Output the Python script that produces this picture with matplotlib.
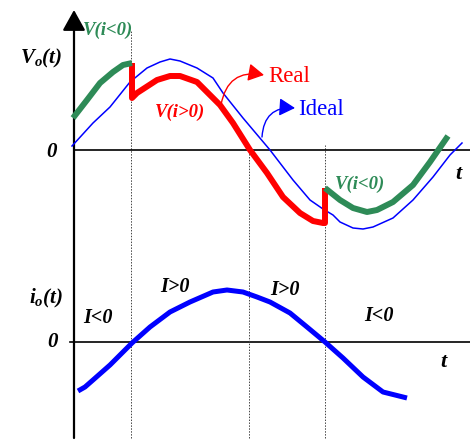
import matplotlib
matplotlib.use("Agg")
import matplotlib.pyplot as plt

plt.rcParams['mathtext.fontset'] = 'custom'
plt.rcParams['mathtext.rm'] = 'Liberation Serif'
plt.rcParams['mathtext.it'] = 'Liberation Serif:italic'
plt.rcParams['mathtext.bf'] = 'Liberation Serif:bold'
plt.rcParams['mathtext.bfit'] = 'Liberation Serif:bold:italic'

# --- output voltage (upper trace) ---
t_ideal = [72, 93, 110, 130, 147, 160, 170, 180, 197, 213, 223, 243, 270, 293, 310,
           323, 333, 340, 353, 363, 373, 393, 413, 433, 450, 462]
v_ideal = [4, 27, 43, 68, 82, 88, 91, 89, 82, 72, 57, 32, 0, -30, -50,
           -59, -65, -72, -78, -79, -77, -68, -50, -27, -5, 7]

t_real = [132, 132, 137, 157, 170, 180, 197, 213, 220, 233, 250, 267, 283, 300,
          313, 323, 325, 325]
v_real = [87, 52, 57, 70, 74, 74, 68, 52, 45, 27, 0, -23, -47, -63,
          -71, -73, -73, -38]

t_neg1 = [73, 87, 100, 113, 123, 132]
v_neg1 = [32, 50, 67, 78, 85, 87]

t_neg2 = [325, 340, 353, 367, 377, 393, 413, 430, 448]
v_neg2 = [-38, -50, -58, -62, -60, -52, -35, -12, 14]

# --- output current (lower trace) ---
t_cur = [78, 85, 93, 110, 132, 150, 170, 190, 213, 227, 243, 257, 270, 290, 307,
         325, 343, 363, 383, 407]
i_cur = [-49, -45, -38, -23, -1, 15, 30, 40, 50, 52, 50, 45, 40, 29, 15,
         0, -16, -35, -50, -56]

# current sign changes / markers (time, top of dotted line in current units)
t_marks = [131, 249, 325]
i_mark_top = [312, 194, 197]
i_mark_bottom = -96

GREEN = '#2E8B57'
RED = '#FF0000'
BLUE = '#0000FF'
bi = dict(family='Liberation Serif', weight='bold', style='italic')

fig = plt.figure(figsize=(4.70, 4.41), dpi=100)
ax_i = fig.add_axes([0, 0, 1, 1])
ax_v = fig.add_axes([0, 0, 1, 1])
for ax in (ax_i, ax_v):
    ax.set_xlim(0, 470)
    ax.axis('off')
    ax.patch.set_alpha(0)
ax_v.set_ylim(150 - 441, 150)
ax_i.set_ylim(342 - 441, 342)

# vertical axis with arrow
ax_i.annotate('', xy=(74, 332), xytext=(74, -96),
              arrowprops=dict(arrowstyle='-|>,head_length=0.9,head_width=0.5',
                              color='black', lw=1.6, mutation_scale=14,
                              shrinkA=0, shrinkB=0))

# zero lines
ax_v.plot([74, 470], [0, 0], color='black', lw=1.2)
ax_i.plot([70, 470], [0, 0], color='black', lw=1.2)

# dotted time markers
for t, top in zip(t_marks, i_mark_top):
    ax_i.plot([t, t], [i_mark_bottom, top], color='#444444', lw=0.7, ls=(0, (1.5, 1.5)))

# voltage traces
ax_v.plot(t_ideal, v_ideal, color=BLUE, lw=1.1, solid_joinstyle='round')
ax_v.plot(t_real, v_real, color=RED, lw=4.3, solid_joinstyle='round', solid_capstyle='butt')
ax_v.plot(t_neg1, v_neg1, color=GREEN, lw=4.3, solid_capstyle='butt', solid_joinstyle='round')
ax_v.plot(t_neg2, v_neg2, color=GREEN, lw=4.3, solid_capstyle='butt', solid_joinstyle='round')

# current trace
ax_i.plot(t_cur, i_cur, color=BLUE, lw=3.6, solid_capstyle='butt', solid_joinstyle='round')

# labels, upper
ax_v.text(41, 92, r'$\mathbfit{V_o(t)}$', fontsize=15, ha='center', va='center')
ax_v.text(52, -2, '0', fontsize=15, ha='center', va='center', **bi)
ax_v.text(458, -24, 't', fontsize=16, ha='center', va='center', **bi)
ax_v.text(108, 120, 'V(i<0)', fontsize=13.5, ha='center', va='center', color=GREEN, **bi)
ax_v.text(180, 38, 'V(i>0)', fontsize=13.5, ha='center', va='center', color=RED, **bi)
ax_v.text(360, -34, 'V(i<0)', fontsize=13.5, ha='center', va='center', color=GREEN, **bi)
ax_v.text(268, 73, 'Real', fontsize=16.5, ha='left', va='center', color=RED,
          family='Liberation Serif')
ax_v.text(298, 40, 'Ideal', fontsize=16.5, ha='left', va='center', color=BLUE,
          family='Liberation Serif')

ax_v.annotate('', xy=(264, 75), xytext=(221, 45),
              arrowprops=dict(arrowstyle='-|>,head_length=0.8,head_width=0.45',
                              color=RED, lw=1.0, mutation_scale=12,
                              connectionstyle='arc3,rad=-0.5', shrinkA=0, shrinkB=0))
ax_v.annotate('', xy=(295, 42), xytext=(262, 13),
              arrowprops=dict(arrowstyle='-|>,head_length=0.8,head_width=0.45',
                              color=BLUE, lw=1.0, mutation_scale=12,
                              connectionstyle='arc3,rad=-0.5', shrinkA=0, shrinkB=0))

# labels, lower
ax_i.text(46, 44, r'$\mathbfit{i_o(t)}$', fontsize=15, ha='center', va='center')
ax_i.text(53, 0, '0', fontsize=15, ha='center', va='center', **bi)
ax_i.text(443, -20, 't', fontsize=16, ha='center', va='center', **bi)
ax_i.text(98, 24, 'I<0', fontsize=14.5, ha='center', va='center', **bi)
ax_i.text(175, 55, 'I>0', fontsize=14.5, ha='center', va='center', **bi)
ax_i.text(285, 52, 'I>0', fontsize=14.5, ha='center', va='center', **bi)
ax_i.text(379, 26, 'I<0', fontsize=14.5, ha='center', va='center', **bi)

fig.savefig('out.png', dpi=100)
